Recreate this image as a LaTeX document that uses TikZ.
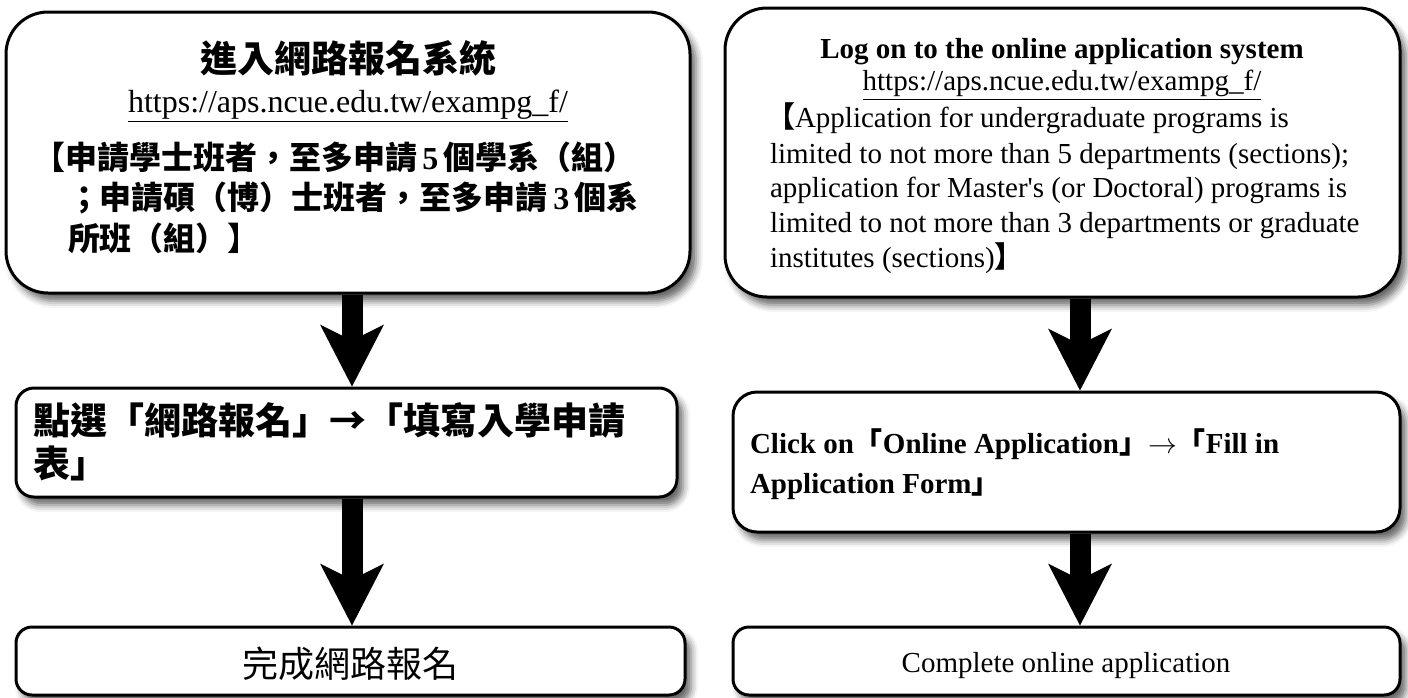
\documentclass[tikz,border=0pt]{standalone}
\usepackage{fontspec}
\setmainfont{Liberation Serif}
\newfontfamily\cjk{Noto Sans CJK TC}
\usetikzlibrary{arrows.meta,shadows.blur}
\tikzset{
  frame/.style={draw, line width=1.5pt, fill=white,
    blur shadow={shadow xshift=3pt, shadow yshift=-4pt, shadow blur radius=3.5pt, shadow opacity=60}},
  txt/.style={inner sep=0pt, outer sep=0pt},
  bigarrow/.style={line width=10.5pt, -{Stealth[length=31pt,width=32pt,inset=8pt,line width=0pt]}},
}
\newcommand{\ensz}{\fontsize{14.5}{17.5}\selectfont}
\newcommand{\zhbig}{\fontsize{18.5}{22}\selectfont}
\newcommand{\zhmid}{\fontsize{16}{19}\selectfont}
\begin{document}
\begin{tikzpicture}[x=0.5pt,y=-0.5pt]
\useasboundingbox (0,0) rectangle (1408,697);
% frames
\node[frame, rounded corners=21pt, minimum width=342pt, minimum height=140.5pt] (L1) at (348,152.5) {};
\node[frame, rounded corners=21pt, minimum width=337.5pt, minimum height=144.5pt] (R1) at (1062.5,152.5) {};
\node[frame, rounded corners=9pt, minimum width=330.5pt, minimum height=54.5pt] (L2) at (346.5,442.5) {};
\node[frame, rounded corners=12pt, minimum width=333.5pt, minimum height=70pt] (R2) at (1066.5,462) {};
\node[frame, rounded corners=8pt, minimum width=334.5pt, minimum height=34pt] (L3) at (350.5,661) {};
\node[frame, rounded corners=8pt, minimum width=333.5pt, minimum height=34pt] (R3) at (1066.5,661) {};
% left box 1 text
\node[txt] (L1a) at (348,58) {\cjk\bfseries\zhbig 進入網路報名系統};
\node[txt, anchor=base] (L1b) at (348,112) {\zhmid\underline{https://aps.ncue.edu.tw/exampg\_f/}};
\node[txt, anchor=west] (L1c) at (33,157) {\zhmid\cjk\bfseries 【申請學士班者，至多申請{\rmfamily\,5\,}個學系（組）};
\node[txt, anchor=west] (L1d) at (68,198) {\zhmid\cjk\bfseries ；申請碩（博）士班者，至多申請{\rmfamily\,3\,}個系};
\node[txt, anchor=west] (L1e) at (68,238) {\zhmid\cjk\bfseries 所班（組）】};
% right box 1 text
\node[txt, anchor=base] (R1a) at (1062,58) {\ensz\bfseries Log on to the online application system};
\node[txt, anchor=base] (R1b) at (1062,90) {\ensz\underline{https://aps.ncue.edu.tw/exampg\_f/}};
\node[txt, anchor=base west] (R1c) at (766,127) {\ensz{\cjk\bfseries 【}Application for undergraduate programs is};
\node[txt, anchor=base west] (R1d) at (770,163) {\ensz limited to not more than 5 departments (sections);};
\node[txt, anchor=base west] (R1e) at (770,197) {\ensz application for Master\textquotesingle s (or Doctoral) programs is};
\node[txt, anchor=base west] (R1f) at (770,232) {\ensz limited to not more than 3 departments or graduate};
\node[txt, anchor=base west] (R1g) at (770,267) {\ensz institutes (sections){\cjk\bfseries 】}};
% left box 2 text
\node[txt, anchor=west] (L2a) at (33,420) {\cjk\bfseries\zhbig 點選「網路報名」→「填寫入學申請};
\node[txt, anchor=west] (L2b) at (33,463) {\cjk\bfseries\zhbig 表」};
% right box 2 text
\node[txt, anchor=base west] (R2a) at (750,453) {\ensz\bfseries Click on{\cjk 「}Online Application{\cjk 」}$\rightarrow${\cjk 「}Fill in};
\node[txt, anchor=base west] (R2b) at (750,493) {\ensz\bfseries Application Form{\cjk 」}};
% box 3 texts
\node[txt] (L3a) at (350,664) {\cjk\fontsize{18}{22}\selectfont 完成網路報名};
\node[txt, anchor=base] (R3a) at (1066,672) {\ensz Complete online application};
% arrows
\coordinate (la) at (352,0);
\coordinate (ra) at (1080,0);
\draw[bigarrow] (L1.south -| la) -- (L2.north -| la);
\draw[bigarrow] (L2.south -| la) -- (L3.north -| la);
\draw[bigarrow] (R1.south -| ra) -- (R2.north -| ra);
\draw[bigarrow] (R2.south -| ra) -- (R3.north -| ra);
\end{tikzpicture}
\end{document}
